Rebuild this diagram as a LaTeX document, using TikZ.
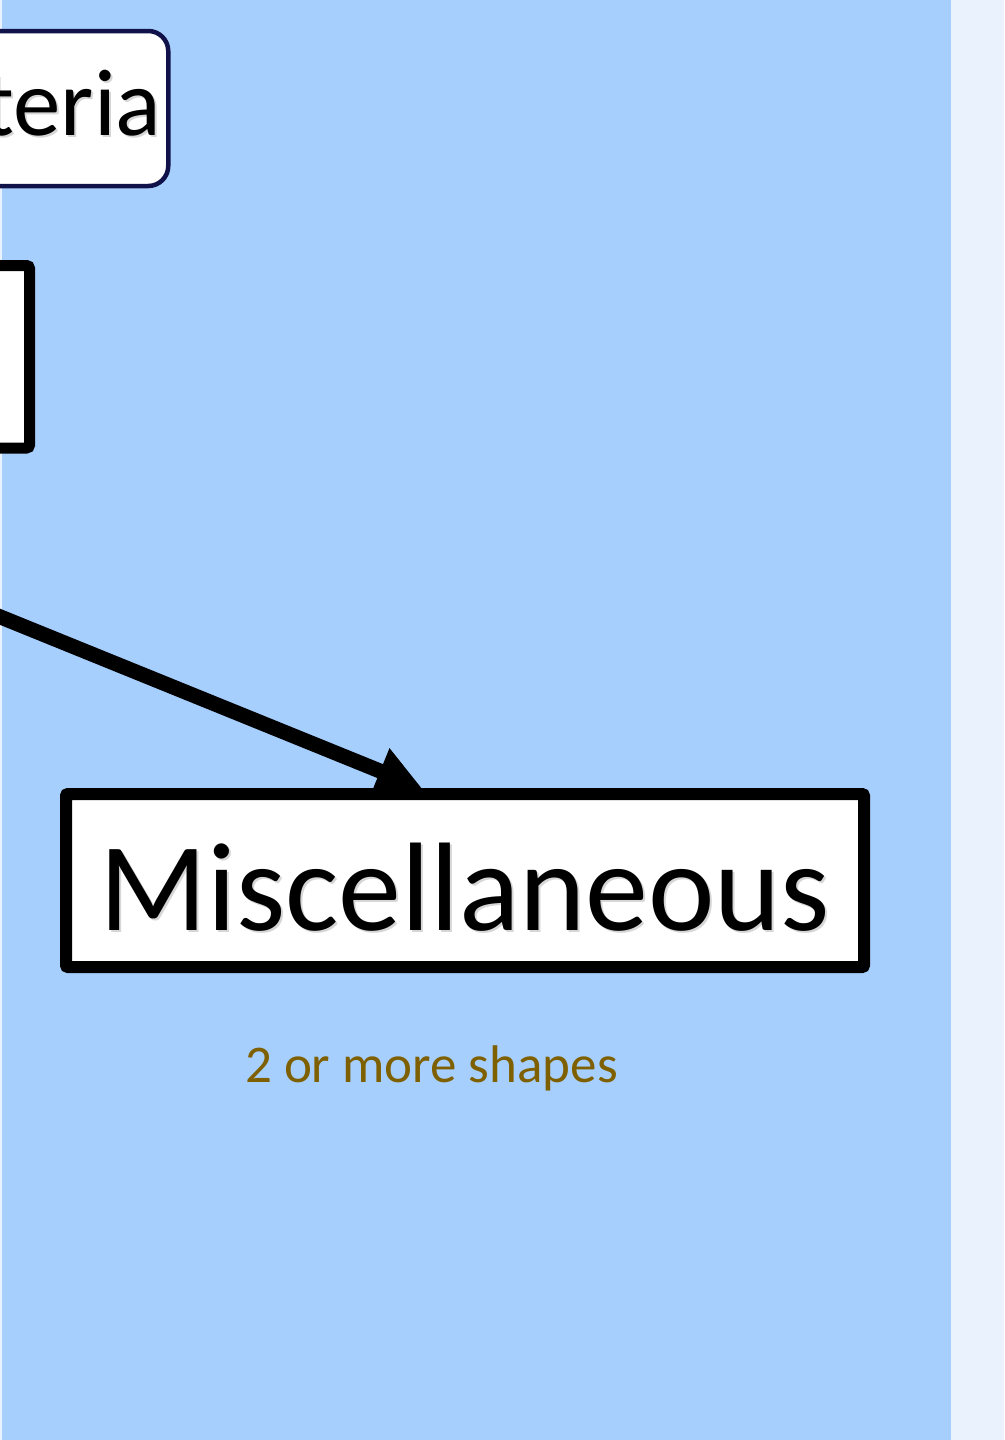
\documentclass[tikz,border=0pt]{standalone}
\usepackage{fontspec}
\setmainfont{Carlito}
\usetikzlibrary{arrows.meta}

\definecolor{panelblue}{HTML}{A6CFFE}
\definecolor{paleblue}{HTML}{EAF2FE}
\definecolor{navyline}{HTML}{12124A}
\definecolor{olivetext}{HTML}{7F6000}

\pgfdeclarelayer{panels}
\pgfdeclarelayer{edges}
\pgfsetlayers{panels,edges,main}

% text with a soft drop shadow
\newcommand\shadowed[1]{\makebox[0pt][l]{\hspace{2pt}\raisebox{-2pt}{\textcolor{black!16}{#1}}}#1}

\tikzset{
  criteriabox/.style={draw=navyline, line width=4.5pt, fill=white,
    rounded corners=20pt, inner xsep=7pt, inner ysep=0pt,
    minimum height=155pt, text height=53pt, text depth=0pt,
    font=\fontsize{95}{110}\selectfont},
  plainbox/.style={draw=black, line width=11pt, fill=white,
    rounded corners=3pt, minimum width=400pt, minimum height=182.5pt},
  catbox/.style={draw=black, line width=12pt, fill=white,
    rounded corners=2pt, minimum width=798pt, minimum height=173pt,
    inner sep=0pt, text height=99pt, text depth=0pt,
    font=\fontsize{126}{140}\selectfont},
  note/.style={text=olivetext, font=\fontsize{53}{60}\selectfont, inner sep=0pt},
  link/.style={line width=15pt, draw=black,
    -{Triangle[length=45pt, width=46pt]}},
}

\begin{document}
\begin{tikzpicture}[x=1pt, y=-1pt]
  \useasboundingbox (0,0) rectangle (1004,1440);
  \clip (0,0) rectangle (1004,1440);

  % panels
  \begin{pgfonlayer}{panels}
    \fill[panelblue] (0,0) rectangle (951,1440);
    \fill[paleblue] (951,0) rectangle (1004,1440);
    \fill[paleblue] (0,0) rectangle (1.5,1440);
  \end{pgfonlayer}

  % nodes
  \node[criteriabox, anchor=east] (crit) at (170.5,108.5) {\shadowed{Criteria}};
  \node[plainbox, anchor=east] (left) at (35,356.75) {};
  \coordinate (src) at (-300,495);
  \node[catbox] (misc) at (465,880.5) {\shadowed{Miscellaneous}};
  \node[note, anchor=base] (count) at (431.5,1082) {2 or more shapes};

  % connector, kept beneath the boxes
  \begin{pgfonlayer}{edges}
    \draw[link] (src) -- (misc.115.7);
  \end{pgfonlayer}
\end{tikzpicture}
\end{document}
